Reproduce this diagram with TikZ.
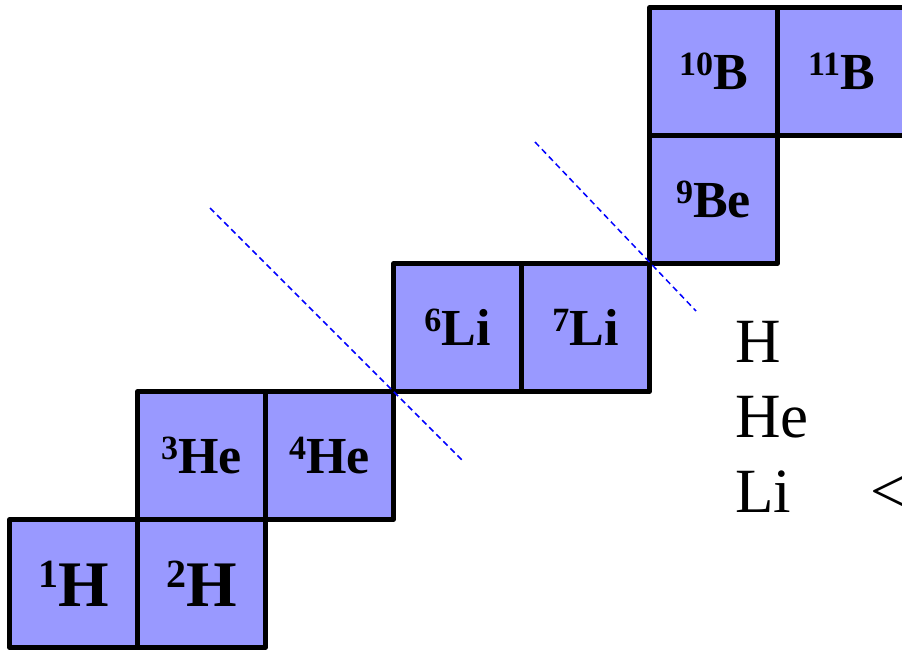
\documentclass[tikz,border=0pt]{standalone}
\usepackage{fontspec}
\setmainfont{Liberation Serif}
\definecolor{cellfill}{RGB}{153,153,255}
\newcommand{\isoS}[2]{{\fontsize{52}{52}\selectfont\bfseries\raisebox{14pt}{\fontsize{34}{34}\selectfont #1}#2}}
\newcommand{\isoL}[2]{{\fontsize{65}{65}\selectfont\bfseries\raisebox{19pt}{\fontsize{40}{40}\selectfont #1}#2}}
\begin{document}
\begin{tikzpicture}[x=1pt,y=-1pt,
  cell/.style={draw=black,fill=cellfill,line width=4.5pt,line join=round,minimum size=128pt,inner sep=0pt,text=black},
  sep/.style={draw=blue,line width=1.5pt,dash pattern=on 6pt off 4pt},
  lbl/.style={anchor=base west,inner sep=0pt,font=\fontsize{63}{63}\selectfont}]
\useasboundingbox (0,0) rectangle (902,650);
\clip (0,0) rectangle (902,650);
\node[cell] (h1) at (73.5,583.5) {\isoL{1}{H}};
\node[cell] (h2) at (201.5,583.5) {\isoL{2}{H}};
\node[cell] (he3) at (201.5,455.5) {\isoS{3}{He}};
\node[cell] (he4) at (329.5,455.5) {\isoS{4}{He}};
\node[cell] (li6) at (457.5,327.5) {\isoS{6}{Li}};
\node[cell] (li7) at (585.5,327.5) {\isoS{7}{Li}};
\node[cell] (be9) at (713.5,199.5) {\isoS{9}{Be}};
\node[cell] (b10) at (713.5,71.5) {\isoS{10}{B}};
\node[cell] (b11) at (841.5,71.5) {\isoS{11}{B}};
\coordinate (d1a) at (210,208);
\coordinate (d1b) at (462,460);
\coordinate (d2a) at (535,142);
\coordinate (d2b) at (696,311);
\draw[sep] (d1a) -- (d1b);
\draw[sep] (d2a) -- (d2b);
\node[lbl] (lblH) at (735,362) {H};
\node[lbl] (lblHe) at (735,437) {He};
\node[lbl] (lblLi) at (735,512) {Li};
\node[lbl] (lt) at (870,512) {<};
\end{tikzpicture}
\end{document}
